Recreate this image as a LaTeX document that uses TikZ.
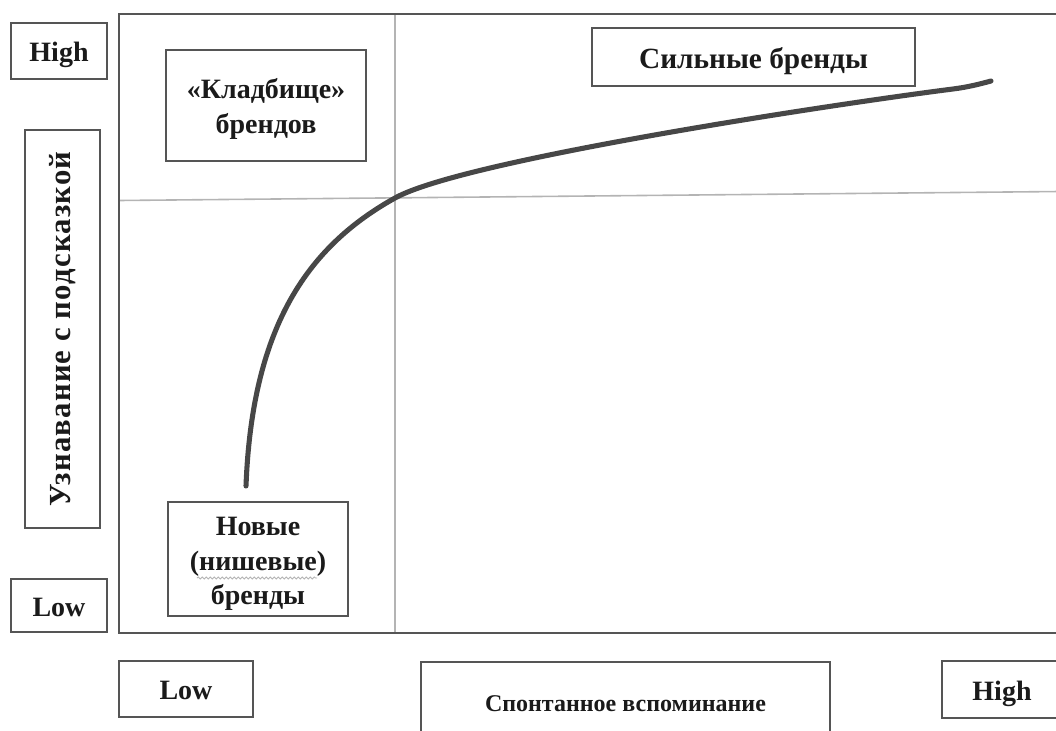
\documentclass[tikz,border=0pt]{standalone}
\usepackage{fontspec}
\setmainfont{Liberation Serif}
\usetikzlibrary{decorations.pathmorphing}
\definecolor{framec}{HTML}{555555}
\definecolor{boxc}{HTML}{555555}
\definecolor{divc}{HTML}{B4B4B4}
\definecolor{curvec}{HTML}{474747}
\definecolor{textc}{HTML}{1A1A1A}
\begin{document}
\begin{tikzpicture}[x=0.75pt,y=-0.75pt,
  lbox/.style={draw=boxc, line width=2pt, fill=white, inner sep=0pt, align=center,
    text=textc, font=\bfseries\fontsize{21}{26}\selectfont},
  onel/.style={text height=19pt, text depth=3pt},
  btext/.style={inner sep=0pt, align=center, text=textc, font=\bfseries\fontsize{21}{26}\selectfont},
  frame/.style={draw=framec, line width=2.2pt},
  divider/.style={draw=divc, line width=1.2pt},
  curve/.style={draw=curvec, line width=3.8pt}]
\useasboundingbox (0,0) rectangle (1056,731);
\clip (0,0) rectangle (1056,731);
% dividers
\coordinate (vtop) at (395,14);
\coordinate (vbot) at (395,633);
\coordinate (hl) at (119,200.5);
\coordinate (hr) at (1060,191.5);
\draw[divider] (vtop) -- (vbot);
\draw[divider] (hl) -- (hr);
% frame
\draw[frame] (1080,14) -- (119,14) -- (119,633) -- (1080,633);
% curve
\coordinate (c0) at (246,486);
\coordinate (c1) at (395,198);
\coordinate (c2) at (953,89);
\coordinate (c3) at (991,81);
\draw[curve, line cap=round] (c0) .. controls (252,330) and (305,248) .. (c1)
  .. controls (465,159) and (850,102) .. (c2)
  .. controls (968,87.1) and (980,84) .. (c3);
% single-line boxes
\node[lbox, onel, minimum width=0.75*96pt, minimum height=0.75*56pt] (highL) at (59,51) {High};
\node[lbox, minimum width=0.75*398pt, minimum height=0.75*75pt, rotate=90,
  font=\bfseries\fontsize{23}{26}\selectfont\addfontfeature{LetterSpace=4}] (ylab) at (62.5,329) {Узнавание с подсказкой};
\node[lbox, onel, minimum width=0.75*96pt, minimum height=0.75*53pt] (lowL) at (59,605.5) {Low};
\node[lbox, text height=21pt, text depth=3pt, minimum width=0.75*323pt, minimum height=0.75*58pt, font=\bfseries\fontsize{22}{26}\selectfont] (strong) at (753.5,57) {Сильные бренды};
\node[lbox, onel, minimum width=0.75*134pt, minimum height=0.75*56pt] (lowB) at (186,689) {Low};
\node[lbox, text height=17.6pt, text depth=3pt, minimum width=0.75*409pt, minimum height=0.75*80pt, font=\bfseries\fontsize{18}{24}\selectfont] (spont) at (625.5,702) {Спонтанное вспоминание};
\node[lbox, onel, minimum width=0.75*120pt, minimum height=0.75*57pt] (highB) at (1002,689.5) {High};
% multi-line boxes
\node[lbox, minimum width=0.75*200pt, minimum height=0.75*111pt] (klad) at (266,105.5) {};
\node[btext] (kladt) at (266,109) {«Кладбище»\\брендов};
\node[lbox, minimum width=0.75*180pt, minimum height=0.75*114pt] (newb) at (258,559) {};
\node[btext] (newt) at (258,564) {Новые\\(нишевые)\\бренды};
% spell-check underline
\coordinate (wl) at (197,578);
\coordinate (wr) at (317,578);
\draw[draw=divc, line width=0.6pt, decorate, decoration={snake, amplitude=0.8pt, segment length=3pt}] (wl) -- (wr);
\end{tikzpicture}
\end{document}
